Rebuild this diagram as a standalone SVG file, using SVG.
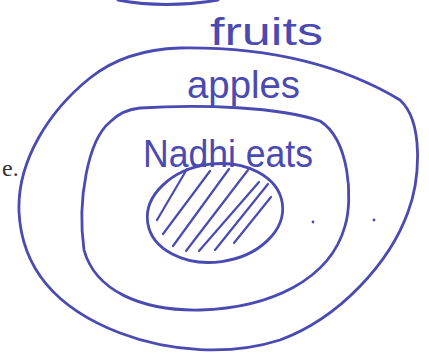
<svg xmlns="http://www.w3.org/2000/svg" width="429" height="353" viewBox="0 0 429 353">
<style>
.ink{fill:none;stroke:#4a4ab2;stroke-width:2.8;stroke-linecap:round;stroke-linejoin:round}
.hatch{fill:none;stroke:#4a4ab2;stroke-width:2.2;stroke-linecap:round}
.hand{fill:#4a4ab2;font-family:"Liberation Sans","DejaVu Sans",sans-serif;font-size:38px}
.print{fill:#333;font-family:"Liberation Serif","DejaVu Serif",serif;font-size:24px}
</style>
<rect width="429" height="353" fill="#fff"/>
<g id="top-arc">
<path class="ink" d="M118,0 Q165,9 218,0"/>
</g>
<g id="fruits">
<path class="ink" d="M180,48 C250,47 330,58 400,100 C424,122 420,180 408,212 C390,262 340,318 280,340 C230,356 170,352 120,333 C60,310 22,272 19,212 C17,160 50,110 90,78 C115,58 145,49 180,48 Z"/>
<text class="hand" x="210" y="45" textLength="113" lengthAdjust="spacingAndGlyphs">fruits</text>
</g>
<g id="apples">
<path class="ink" d="M140,108 C200,104 280,107 320,121 C350,140 353,200 345,226 C330,280 270,308 200,310 C140,311 95,290 84,250 C77,200 88,140 110,122 C118,114 128,109 140,108 Z"/>
<text class="hand" x="187" y="98" textLength="113" lengthAdjust="spacingAndGlyphs">apples</text>
</g>
<g id="nadhi-eats">
<ellipse class="ink" cx="215" cy="213" rx="68" ry="49" transform="rotate(-8 215 213)"/>
<path class="hatch" d="M157,220 L187,169 M163,234 L210,171 M173,246 L229,169 M186,251 L248,170 M199,251 L259,182 M215,250 L268,184 M234,243 L271,197"/>
<text class="hand" x="143" y="167" textLength="170" lengthAdjust="spacingAndGlyphs">Nadhi eats</text>
</g>
<g id="marks">
<circle cx="313" cy="222" r="1.4" fill="#4a4ab2"/>
<circle cx="374" cy="220" r="1.4" fill="#4a4ab2"/>
</g>
<g id="fragment">
<text class="print" x="2" y="176">e.</text>
</g>
<g id="connectors"/>
</svg>
